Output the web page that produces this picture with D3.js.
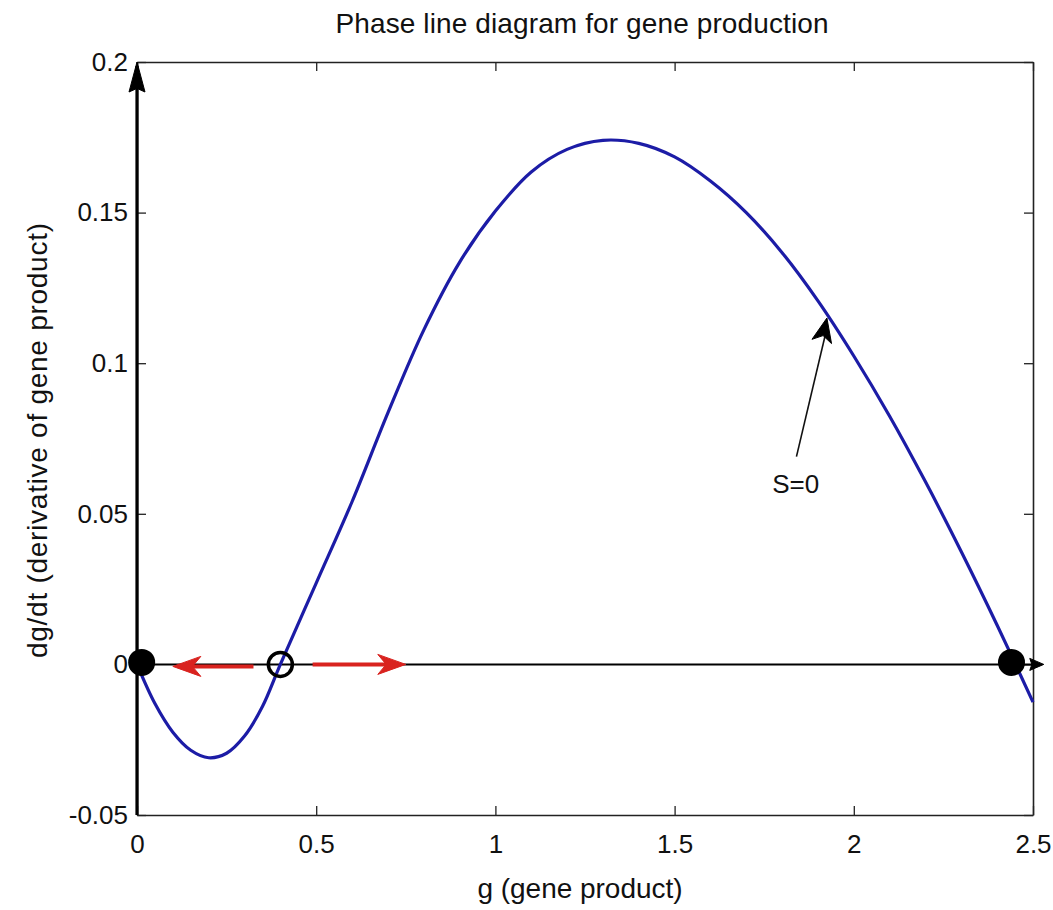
<!DOCTYPE html>
<html>
<head>
<meta charset="utf-8">
<script src="https://cdn.jsdelivr.net/npm/d3@7"></script>
<style>
  body { margin: 0; background: #fff; }
  text { font-family: "Liberation Sans", Arial, sans-serif; fill: #111; }
</style>
</head>
<body>
<div id="chart"></div>
<script>
const width = 1053;
const height = 910;
const margin = {top: 62, right: 20, bottom: 95, left: 137};

// curve: g vs dg/dt
const gValues = [0, 0.05, 0.1, 0.15, 0.2, 0.25, 0.3, 0.35, 0.4, 0.5, 0.6, 0.7, 0.8, 0.9, 1.0,
    1.1, 1.2, 1.3, 1.4, 1.5, 1.6, 1.7, 1.8, 1.9, 2.0, 2.1, 2.2, 2.3, 2.4, 2.5];
const dgdtValues = [0, -0.013, -0.0225, -0.0285, -0.031, -0.0295, -0.0238, -0.014, 0, 0.027, 0.054, 0.0835, 0.111, 0.1335, 0.1505,
    0.1635, 0.171, 0.174, 0.173, 0.1685, 0.1605, 0.150, 0.1367, 0.1207, 0.1024, 0.0824, 0.0606, 0.0374, 0.013, -0.0125];

// equilibria
const stablePoints = [0.013, 2.44];
const unstablePoints = [0.40];

// red flow arrows on the phase line (from -> to)
const flowFrom = [0.325, 0.49];
const flowTo = [0.10, 0.75];

// annotation
const annoFrom = [1.84, 0.069];
const annoTo = [1.925, 0.115];
const annoTextPos = [1.838, 0.057];
const annoText = "S=0";

const xTicks = [0, 0.5, 1, 1.5, 2, 2.5];
const xTickLabels = ["0", "0.5", "1", "1.5", "2", "2.5"];
const yTicks = [-0.05, 0, 0.05, 0.1, 0.15, 0.2];
const yTickLabels = ["-0.05", "0", "0.05", "0.1", "0.15", "0.2"];

const titleText = "Phase line diagram for gene production";
const xLabel = "g (gene product)";
const yLabel = "dg/dt (derivative of gene product)";

const svg = d3.select("#chart").append("svg")
    .attr("width", width)
    .attr("height", height);

const iw = width - margin.left - margin.right;
const ih = height - margin.top - margin.bottom;

const x = d3.scaleLinear().domain([0, 2.5]).range([0, iw]);
const y = d3.scaleLinear().domain([-0.05, 0.2]).range([ih, 0]);

const g = svg.append("g").attr("transform", `translate(${margin.left},${margin.top})`);

// axes
const fontSize = 26;
const xAxis = g.append("g").attr("transform", `translate(0,${ih})`)
    .call(d3.axisBottom(x).tickValues(xTicks).tickFormat((d, i) => xTickLabels[i])
        .tickSizeInner(-9).tickSizeOuter(0).tickPadding(20));
const yAxis = g.append("g")
    .call(d3.axisLeft(y).tickValues(yTicks).tickFormat((d, i) => yTickLabels[i])
        .tickSizeInner(-9).tickSizeOuter(0).tickPadding(9));
const xTop = g.append("g")
    .call(d3.axisTop(x).tickValues(xTicks).tickFormat("").tickSizeInner(-9).tickSizeOuter(0));
const yRight = g.append("g").attr("transform", `translate(${iw},0)`)
    .call(d3.axisRight(y).tickValues(yTicks).tickFormat("").tickSizeInner(-9).tickSizeOuter(0));

[xAxis, yAxis, xTop, yRight].forEach(a => {
    a.select(".domain").attr("stroke", "#222").attr("stroke-width", 1.6);
    a.selectAll(".tick line").attr("stroke", "#222").attr("stroke-width", 1.3);
    a.selectAll(".tick text").attr("font-size", fontSize).attr("fill", "#111")
        .attr("font-family", "Liberation Sans, Arial, sans-serif");
});

// title and labels
svg.append("text")
    .attr("x", margin.left + iw / 2 - 3).attr("y", 33)
    .attr("text-anchor", "middle").attr("font-size", 28)
    .attr("textLength", 493)
    .text(titleText);
svg.append("text")
    .attr("x", margin.left + iw / 2 - 5).attr("y", 898)
    .attr("text-anchor", "middle").attr("font-size", 28)
    .attr("textLength", 205)
    .text(xLabel);
svg.append("text")
    .attr("transform", `translate(47,${margin.top + ih / 2 + 2}) rotate(-90)`)
    .attr("text-anchor", "middle").attr("font-size", 28)
    .attr("textLength", 435)
    .text(yLabel);

// arrow head helper (filled triangle, optional notch)
function arrowHead(parent, x1, y1, x2, y2, len, half, notch, color) {
    const a = Math.atan2(y2 - y1, x2 - x1);
    const ux = Math.cos(a), uy = Math.sin(a);
    const px = -uy, py = ux;
    const bx = x2 - ux * len, by = y2 - uy * len;
    const nx = x2 - ux * len * (1 - notch), ny = y2 - uy * len * (1 - notch);
    parent.append("path")
        .attr("d", `M${x2},${y2}L${bx + px * half},${by + py * half}L${nx},${ny}L${bx - px * half},${by - py * half}Z`)
        .attr("fill", color).attr("stroke", color).attr("stroke-width", 1);
}

// vertical axis arrow (g = 0)
g.append("line")
    .attr("x1", x(0)).attr("y1", y(-0.05)).attr("x2", x(0)).attr("y2", y(0.2) + 4)
    .attr("stroke", "#000").attr("stroke-width", 3.2);
arrowHead(g, x(0), y(-0.05), x(0), y(0.2), 30, 8, 0.12, "#000");

// horizontal phase line (dg/dt = 0)
g.append("line")
    .attr("x1", x(0)).attr("y1", y(0)).attr("x2", x(2.53) - 4).attr("y2", y(0))
    .attr("stroke", "#000").attr("stroke-width", 2);
arrowHead(g, x(2.4), y(0), x(2.53), y(0), 14, 6, 0.15, "#000");

// curve
const line = d3.line()
    .x((d, i) => x(gValues[i]))
    .y((d, i) => y(dgdtValues[i]))
    .curve(d3.curveCatmullRom);
g.append("path")
    .datum(gValues)
    .attr("d", line)
    .attr("fill", "none")
    .attr("stroke", "#1c1ca6")
    .attr("stroke-width", 3.2);

// red flow arrows
flowFrom.forEach((f, i) => {
    const x1 = x(f), x2 = x(flowTo[i]), yy = y(0) + (i === 0 ? 2 : 0);
    g.append("line")
        .attr("x1", x1).attr("y1", yy).attr("x2", x2 + (x2 < x1 ? 12 : -12)).attr("y2", yy)
        .attr("stroke", "#d9231f").attr("stroke-width", 4);
    arrowHead(g, x1, yy, x2, yy, 28, 10, 0.3, "#d9231f");
});

// equilibria markers
g.selectAll(".stable")
    .data(stablePoints)
    .enter().append("circle")
    .attr("class", "stable")
    .attr("cx", d => x(d)).attr("cy", y(0) - 2)
    .attr("r", 13.5)
    .attr("fill", "#000");
g.selectAll(".unstable")
    .data(unstablePoints)
    .enter().append("circle")
    .attr("class", "unstable")
    .attr("cx", d => x(d)).attr("cy", y(0))
    .attr("r", 12)
    .attr("fill", "none")
    .attr("stroke", "#000")
    .attr("stroke-width", 3.5);

// S=0 annotation
g.append("line")
    .attr("x1", x(annoFrom[0])).attr("y1", y(annoFrom[1]))
    .attr("x2", x(annoTo[0])).attr("y2", y(annoTo[1]) + 10)
    .attr("stroke", "#111").attr("stroke-width", 1.6);
arrowHead(g, x(annoFrom[0]), y(annoFrom[1]), x(annoTo[0]), y(annoTo[1]), 24, 10, 0.25, "#000");
g.append("text")
    .attr("x", x(annoTextPos[0])).attr("y", y(annoTextPos[1]))
    .attr("text-anchor", "middle")
    .attr("font-size", 26)
    .text(annoText);
</script>
</body>
</html>
